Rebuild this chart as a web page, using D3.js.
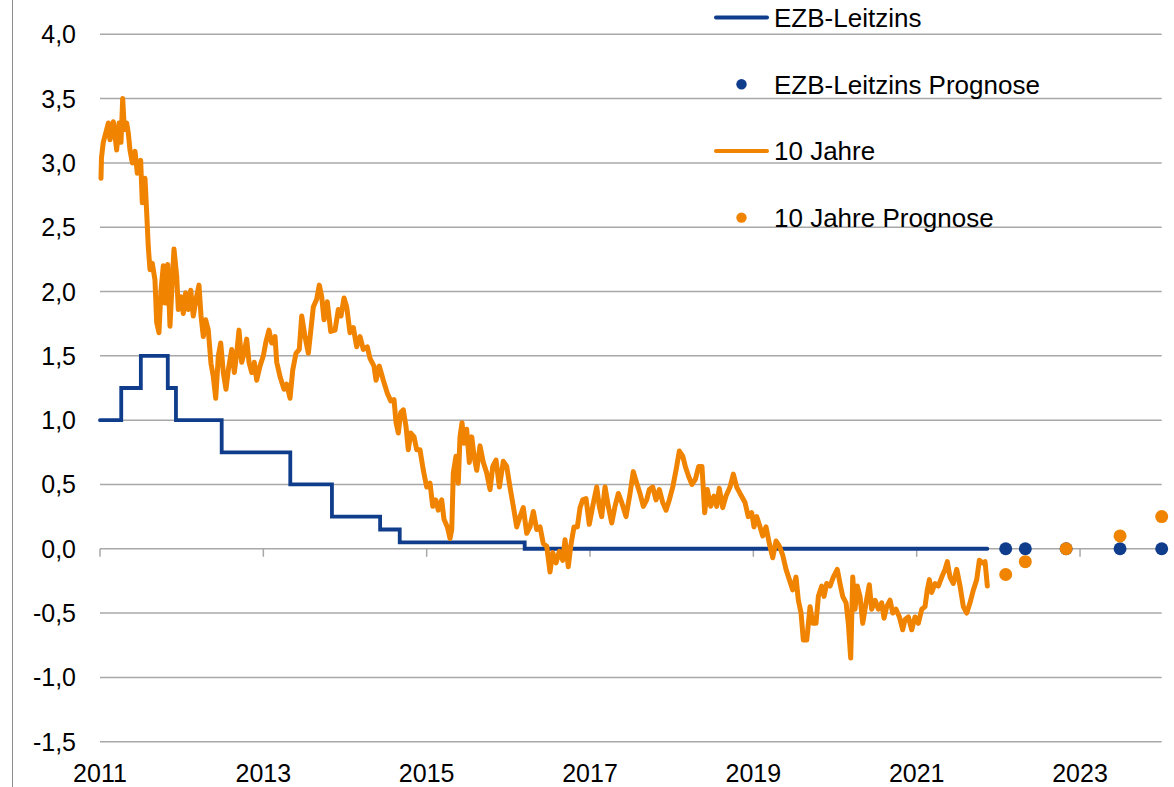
<!DOCTYPE html>
<html lang="de">
<head>
<meta charset="utf-8">
<title>EZB-Leitzins und 10 Jahre</title>
<script src="https://d3js.org/d3.v7.min.js"></script>
<style>
 body { margin: 0; background: #fff; }
 text { font-family: "Liberation Sans", Arial, sans-serif; fill: #000; }
</style>
</head>
<body>
<script>

//Leitzins steps (decimal year, percent)
const leitzinsDates = [2011.0, 2011.26, 2011.50, 2011.83, 2011.93, 2012.49, 2013.33, 2013.84, 2014.43, 2014.67, 2016.20, 2021.865];
const leitzinsValues = [1.00, 1.25, 1.50, 1.25, 1.00, 0.75, 0.50, 0.25, 0.15, 0.05, 0.00, 0.00];

//10 Jahre yield
const yieldDates = [
 2011.012, 2011.018, 2011.040, 2011.082, 2011.102, 2011.122, 2011.163, 2011.204, 2011.233, 2011.257,
 2011.278, 2011.298, 2011.327, 2011.347, 2011.367, 2011.396, 2011.429, 2011.457, 2011.498, 2011.518,
 2011.551, 2011.572, 2011.591, 2011.612, 2011.640, 2011.673, 2011.694, 2011.722, 2011.747, 2011.775,
 2011.796, 2011.829, 2011.857, 2011.885, 2011.906, 2011.939, 2011.959, 2011.992, 2012.020, 2012.049,
 2012.081, 2012.111, 2012.142, 2012.176, 2012.212, 2012.237, 2012.265, 2012.294, 2012.326, 2012.359,
 2012.387, 2012.417, 2012.449, 2012.478, 2012.510, 2012.543, 2012.571, 2012.613, 2012.645, 2012.674,
 2012.702, 2012.735, 2012.763, 2012.796, 2012.825, 2012.858, 2012.889, 2012.919, 2012.959, 2013.000,
 2013.029, 2013.069, 2013.102, 2013.143, 2013.164, 2013.204, 2013.253, 2013.286, 2013.327, 2013.360,
 2013.400, 2013.440, 2013.470, 2013.510, 2013.551, 2013.580, 2013.612, 2013.653, 2013.685, 2013.715,
 2013.743, 2013.783, 2013.825, 2013.878, 2013.918, 2013.951, 2013.988, 2014.021, 2014.061, 2014.102,
 2014.143, 2014.184, 2014.224, 2014.273, 2014.306, 2014.355, 2014.380, 2014.420, 2014.469, 2014.518,
 2014.560, 2014.600, 2014.625, 2014.653, 2014.682, 2014.714, 2014.747, 2014.775, 2014.805, 2014.845,
 2014.878, 2014.918, 2014.959, 2015.000, 2015.041, 2015.074, 2015.111, 2015.142, 2015.184, 2015.212,
 2015.253, 2015.286, 2015.307, 2015.326, 2015.359, 2015.387, 2015.408, 2015.433, 2015.457, 2015.490,
 2015.522, 2015.552, 2015.580, 2015.613, 2015.653, 2015.694, 2015.735, 2015.776, 2015.809, 2015.849,
 2015.890, 2015.938, 2015.980, 2016.020, 2016.061, 2016.102, 2016.143, 2016.183, 2016.225, 2016.265,
 2016.306, 2016.347, 2016.388, 2016.428, 2016.470, 2016.510, 2016.543, 2016.584, 2016.624, 2016.666,
 2016.694, 2016.734, 2016.764, 2016.804, 2016.845, 2016.878, 2016.911, 2016.951, 2016.991, 2017.033,
 2017.082, 2017.114, 2017.143, 2017.184, 2017.224, 2017.266, 2017.306, 2017.347, 2017.388, 2017.441,
 2017.490, 2017.530, 2017.572, 2017.612, 2017.653, 2017.694, 2017.726, 2017.768, 2017.808, 2017.849,
 2017.890, 2017.931, 2017.971, 2018.013, 2018.053, 2018.094, 2018.135, 2018.167, 2018.209, 2018.249,
 2018.290, 2018.331, 2018.371, 2018.404, 2018.436, 2018.478, 2018.518, 2018.551, 2018.583, 2018.625,
 2018.665, 2018.714, 2018.755, 2018.796, 2018.837, 2018.898, 2018.938, 2018.980, 2019.008, 2019.041,
 2019.082, 2019.115, 2019.155, 2019.196, 2019.237, 2019.278, 2019.318, 2019.360, 2019.400, 2019.441,
 2019.482, 2019.522, 2019.551, 2019.584, 2019.612, 2019.654, 2019.694, 2019.727, 2019.767, 2019.796,
 2019.837, 2019.866, 2019.898, 2019.939, 2019.979, 2020.028, 2020.061, 2020.094, 2020.135, 2020.163,
 2020.192, 2020.217, 2020.245, 2020.273, 2020.306, 2020.339, 2020.380, 2020.420, 2020.449, 2020.490,
 2020.530, 2020.572, 2020.600, 2020.633, 2020.674, 2020.707, 2020.747, 2020.788, 2020.829, 2020.857,
 2020.898, 2020.939, 2020.980, 2021.020, 2021.062, 2021.102, 2021.130, 2021.155, 2021.184, 2021.225,
 2021.265, 2021.307, 2021.347, 2021.375, 2021.408, 2021.449, 2021.490, 2021.531, 2021.571, 2021.613,
 2021.653, 2021.694, 2021.735, 2021.767, 2021.809, 2021.837, 2021.865
];
const yieldValues = [
 2.88, 3.04, 3.16, 3.26, 3.31, 3.18, 3.32, 3.10, 3.31, 3.16,
 3.50, 3.26, 3.31, 3.23, 3.10, 3.00, 3.09, 2.92, 3.02, 2.69,
 2.88, 2.61, 2.35, 2.17, 2.22, 2.09, 1.76, 1.68, 2.01, 2.20,
 1.91, 2.21, 1.73, 2.09, 2.33, 2.12, 1.86, 1.96, 1.83, 1.99,
 1.86, 2.01, 1.81, 1.94, 2.05, 1.81, 1.65, 1.78, 1.70, 1.44,
 1.34, 1.17, 1.50, 1.60, 1.37, 1.24, 1.39, 1.55, 1.37, 1.52,
 1.70, 1.45, 1.52, 1.63, 1.45, 1.37, 1.45, 1.31, 1.42, 1.50,
 1.60, 1.70, 1.60, 1.65, 1.45, 1.34, 1.24, 1.28, 1.17, 1.39,
 1.52, 1.55, 1.81, 1.65, 1.52, 1.69, 1.88, 1.94, 2.05, 1.96,
 1.78, 1.92, 1.69, 1.70, 1.86, 1.81, 1.95, 1.88, 1.68, 1.72,
 1.57, 1.65, 1.55, 1.57, 1.48, 1.42, 1.31, 1.42, 1.31, 1.21,
 1.15, 1.16, 0.98, 0.90, 1.06, 1.08, 0.95, 0.77, 0.90, 0.87,
 0.77, 0.77, 0.61, 0.48, 0.51, 0.33, 0.38, 0.30, 0.38, 0.23,
 0.17, 0.08, 0.15, 0.59, 0.72, 0.51, 0.87, 0.98, 0.82, 0.93,
 0.67, 0.87, 0.72, 0.61, 0.80, 0.67, 0.59, 0.46, 0.64, 0.69,
 0.48, 0.68, 0.64, 0.48, 0.33, 0.17, 0.25, 0.32, 0.12, 0.17,
 0.29, 0.15, 0.17, 0.04, 0.02, -0.18, -0.03, -0.11, -0.02, -0.09,
 0.07, -0.14, 0.02, 0.17, 0.17, 0.32, 0.38, 0.39, 0.19, 0.33,
 0.48, 0.33, 0.25, 0.48, 0.33, 0.20, 0.33, 0.43, 0.36, 0.25,
 0.43, 0.60, 0.51, 0.43, 0.33, 0.38, 0.46, 0.48, 0.38, 0.46,
 0.36, 0.30, 0.38, 0.48, 0.61, 0.76, 0.72, 0.64, 0.56, 0.50,
 0.54, 0.64, 0.64, 0.28, 0.46, 0.33, 0.41, 0.33, 0.47, 0.32,
 0.41, 0.48, 0.58, 0.48, 0.43, 0.36, 0.25, 0.28, 0.17, 0.25,
 0.17, 0.10, 0.17, 0.04, -0.07, 0.06, 0.02, -0.05, -0.16, -0.24,
 -0.32, -0.22, -0.40, -0.50, -0.71, -0.71, -0.45, -0.58, -0.58, -0.37,
 -0.29, -0.37, -0.27, -0.29, -0.22, -0.16, -0.27, -0.37, -0.42, -0.58,
 -0.85, -0.22, -0.47, -0.29, -0.37, -0.58, -0.42, -0.28, -0.47, -0.40,
 -0.47, -0.42, -0.54, -0.45, -0.40, -0.50, -0.47, -0.53, -0.63, -0.55,
 -0.53, -0.63, -0.53, -0.58, -0.47, -0.45, -0.32, -0.24, -0.34, -0.27,
 -0.29, -0.22, -0.16, -0.10, -0.22, -0.27, -0.16, -0.29, -0.45, -0.50,
 -0.42, -0.32, -0.24, -0.09, -0.11, -0.10, -0.29
];

//Prognose points
const forecastDates = [2022.09, 2022.33, 2022.83, 2023.49, 2024.0];
const leitzinsForecast = [0.0, 0.0, 0.0, 0.0, 0.0];
const yieldForecast = [-0.20, -0.10, 0.0, 0.10, 0.25];

//Ticks and legend
const yearTicks = [2011, 2013, 2015, 2017, 2019, 2021, 2023];
const valueTicks = [-1.5, -1.0, -0.5, 0.0, 0.5, 1.0, 1.5, 2.0, 2.5, 3.0, 3.5, 4.0];
const legendLabels = ['EZB-Leitzins', 'EZB-Leitzins Prognose', '10 Jahre', '10 Jahre Prognose'];

const blue = '#0f3c8b';
const orange = '#f08300';

const width = 1174, height = 787;

const xScale = d3.scaleLinear()
    .domain([2011, 2024])
    .range([100, 1161.7]);

const yScale = d3.scaleLinear()
    .domain([-1.5, 4])
    .range([741.7, 34.3]);

const fmt = d => d3.format('.1f')(d).replace('.', ',').replace('−', '-');

const svg = d3.select('body')
    .append('svg')
    .attr('width', width)
    .attr('height', height);

//Left border line
svg.append('line')
    .attr('x1', 12.5).attr('x2', 12.5)
    .attr('y1', 0).attr('y2', height)
    .style('stroke', '#8c8c8c')
    .style('stroke-width', 1);

//Gridlines
svg.selectAll('.grid')
    .data(valueTicks)
    .enter()
    .append('line')
    .attr('class', 'grid')
    .attr('x1', xScale(2011))
    .attr('x2', xScale(2024))
    .attr('y1', d => yScale(d))
    .attr('y2', d => yScale(d))
    .style('stroke', '#a8a8a8')
    .style('stroke-width', 1.5);

//Y labels
svg.selectAll('.ylab')
    .data(valueTicks)
    .enter()
    .append('text')
    .attr('class', 'ylab')
    .attr('x', 76)
    .attr('y', d => yScale(d))
    .attr('dy', '0.36em')
    .attr('text-anchor', 'end')
    .style('font-size', '25px')
    .text(fmt);

//X axis ticks on zero line
svg.selectAll('.xtick')
    .data(yearTicks)
    .enter()
    .append('line')
    .attr('class', 'xtick')
    .attr('x1', d => xScale(d))
    .attr('x2', d => xScale(d))
    .attr('y1', yScale(0))
    .attr('y2', yScale(0) + 8)
    .style('stroke', '#a8a8a8')
    .style('stroke-width', 1.5);

//X labels
svg.selectAll('.xlab')
    .data(yearTicks)
    .enter()
    .append('text')
    .attr('class', 'xlab')
    .attr('x', d => xScale(d))
    .attr('y', 782)
    .attr('text-anchor', 'middle')
    .style('font-size', '25px')
    .text(d => d);

//Leitzins step line
const leitzins = leitzinsDates.map((d, i) => [d, leitzinsValues[i]]);
svg.append('path')
    .datum(leitzins)
    .attr('d', d3.line()
          .x(d => xScale(d[0]))
          .y(d => yScale(d[1]))
          .curve(d3.curveStepAfter))
    .style('fill', 'none')
    .style('stroke', blue)
    .style('stroke-width', 3.8)
    .style('stroke-linecap', 'round');

//10 Jahre line
const yields = yieldDates.map((d, i) => [d, yieldValues[i]]);
svg.append('path')
    .datum(yields)
    .attr('d', d3.line()
          .x(d => xScale(d[0]))
          .y(d => yScale(d[1])))
    .style('fill', 'none')
    .style('stroke', orange)
    .style('stroke-width', 5)
    .style('stroke-linejoin', 'round')
    .style('stroke-linecap', 'round');

//Prognose dots
svg.selectAll('.dotB')
    .data(forecastDates)
    .enter()
    .append('circle')
    .attr('class', 'dotB')
    .attr('cx', d => xScale(d))
    .attr('cy', (d, i) => yScale(leitzinsForecast[i]))
    .attr('r', 6.5)
    .style('fill', blue);

svg.selectAll('.dotO')
    .data(forecastDates)
    .enter()
    .append('circle')
    .attr('class', 'dotO')
    .attr('cx', d => xScale(d))
    .attr('cy', (d, i) => yScale(yieldForecast[i]))
    .attr('r', 6.5)
    .style('fill', orange);

//Legend
const legend = svg.append('g');
legendLabels.forEach(function (label, i) {
    const cy = 17.5 + i * 66.7;
    const color = i < 2 ? blue : orange;
    if (i % 2 === 0) {
        legend.append('line')
            .attr('x1', 716).attr('x2', 767)
            .attr('y1', cy).attr('y2', cy)
            .style('stroke', color)
            .style('stroke-width', 4)
            .style('stroke-linecap', 'round');
    } else {
        legend.append('circle')
            .attr('cx', 741.5)
            .attr('cy', cy)
            .attr('r', 5.2)
            .style('fill', color);
    }
    legend.append('text')
        .attr('x', 774)
        .attr('y', cy + 9.5)
        .style('font-size', '26px')
        .text(label);
});

</script>
</body>
</html>
